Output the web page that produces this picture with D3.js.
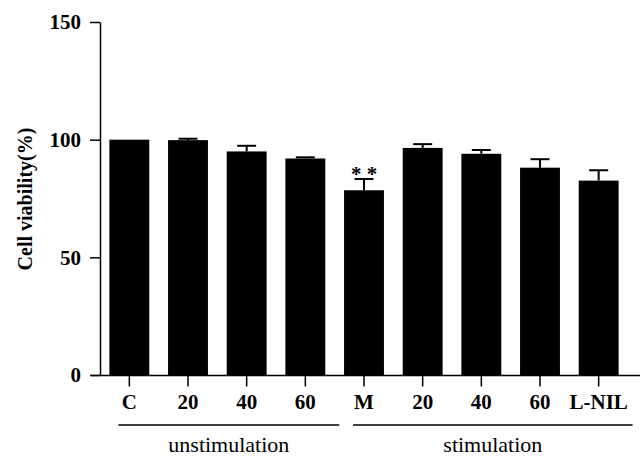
<!DOCTYPE html>
<html>
<head>
<meta charset="utf-8">
<script src="https://cdn.jsdelivr.net/npm/d3@7"></script>
<style>
  html, body { margin: 0; padding: 0; background: #fff; }
  svg { display: block; }
</style>
</head>
<body>
<div id="chart"></div>
<script>
(() => {
const barIds = ["C", "U20", "U40", "U60", "M", "S20", "S40", "S60", "LNIL"];
const barLabels = ["C", "20", "40", "60", "M", "20", "40", "60", "L-NIL"];
const viability = [100, 99.8, 95.0, 92.0, 78.5, 96.5, 94.0, 88.1, 82.6];
const errors = [0, 0.6, 2.4, 0.5, 4.8, 1.6, 1.6, 3.6, 4.4];
const marks = ["", "", "", "", "**", "", "", "", ""];
const yTicks = [0, 50, 100, 150];

const groupNames = ["unstimulation", "stimulation"];
const groupFirst = ["C", "M"];
const groupLast = ["U60", "LNIL"];

const width = 644;
const height = 459;
const font = "'Liberation Serif', 'Times New Roman', serif";

const svg = d3.select("#chart")
  .append("svg")
  .attr("width", width)
  .attr("height", height)
  .style("font-family", font);

const x = d3.scaleBand()
  .domain(barIds)
  .range([100, 628])
  .paddingInner(0.32)
  .paddingOuter(0.16);

const y = d3.scaleLinear()
  .domain([0, 150])
  .range([375, 22]);

const data = barIds.map((id, i) => ({
  id: id,
  label: barLabels[i],
  value: viability[i],
  err: errors[i],
  mark: marks[i]
}));

// barres
svg.append("g")
  .selectAll("rect")
  .data(data)
  .enter()
  .append("rect")
  .attr("x", d => x(d.id))
  .attr("y", d => y(d.value))
  .attr("width", x.bandwidth())
  .attr("height", d => y(0) - y(d.value))
  .attr("fill", "#000");

// barres d'erreur (vers le haut seulement)
const capWidth = 19;
const eb = svg.append("g")
  .attr("stroke", "#000")
  .attr("stroke-width", 2);

data.filter(d => d.err > 0).forEach(d => {
  const cx = x(d.id) + x.bandwidth() / 2;
  eb.append("line")
    .attr("x1", cx).attr("x2", cx)
    .attr("y1", y(d.value)).attr("y2", y(d.value + d.err));
  eb.append("line")
    .attr("x1", cx - capWidth / 2).attr("x2", cx + capWidth / 2)
    .attr("y1", y(d.value + d.err)).attr("y2", y(d.value + d.err));
});

// étoiles de significativité
svg.append("g")
  .selectAll("text")
  .data(data.filter(d => d.mark))
  .enter()
  .append("text")
  .attr("x", d => x(d.id) + x.bandwidth() / 2)
  .attr("y", d => y(d.value + d.err) + 2)
  .attr("text-anchor", "middle")
  .style("font-size", "21px")
  .style("font-weight", "bold")
  .text(d => d.mark.split("").join(" "));

// axe Y
const yAxis = svg.append("g")
  .attr("transform", "translate(100,0)")
  .call(d3.axisLeft(y).tickValues(yTicks).tickSize(10).tickSizeOuter(0).tickPadding(9));
yAxis.select(".domain").attr("stroke-width", 1.5);
yAxis.selectAll(".tick line").attr("stroke-width", 1.5);
yAxis.selectAll("text")
  .style("font-family", font)
  .style("font-size", "21px")
  .style("font-weight", "bold")
  .attr("fill", "#000");

svg.append("text")
  .attr("transform", "rotate(-90)")
  .attr("x", -199)
  .attr("y", 32)
  .attr("text-anchor", "middle")
  .style("font-size", "20px")
  .style("font-weight", "bold")
  .text("Cell viability(%)");

// axe X
svg.append("line")
  .attr("x1", 91).attr("x2", 640)
  .attr("y1", y(0) + 0.5).attr("y2", y(0) + 0.5)
  .attr("stroke", "#000")
  .attr("stroke-width", 1.5);

const xAxis = svg.append("g")
  .attr("transform", `translate(0,${y(0) + 0.5})`)
  .call(d3.axisBottom(x).tickSize(11).tickSizeOuter(0).tickPadding(8)
    .tickFormat((d, i) => barLabels[i]));
xAxis.select(".domain").remove();
xAxis.selectAll(".tick line").attr("stroke-width", 1.5);
xAxis.selectAll("text")
  .style("font-family", font)
  .style("font-size", "21px")
  .style("font-weight", "bold")
  .attr("fill", "#000");

// groupes
groupNames.forEach((name, i) => {
  const x1 = x(groupFirst[i]) + 9;
  const x2 = x(groupLast[i]) + x.bandwidth() + 14;
  svg.append("line")
    .attr("x1", x1).attr("x2", x2)
    .attr("y1", 425).attr("y2", 425)
    .attr("stroke", "#000")
    .attr("stroke-width", 1.5);
  svg.append("text")
    .attr("x", (x1 + x2) / 2)
    .attr("y", 452)
    .attr("text-anchor", "middle")
    .style("font-size", "22px")
    .text(name);
});
})();
</script>
</body>
</html>
